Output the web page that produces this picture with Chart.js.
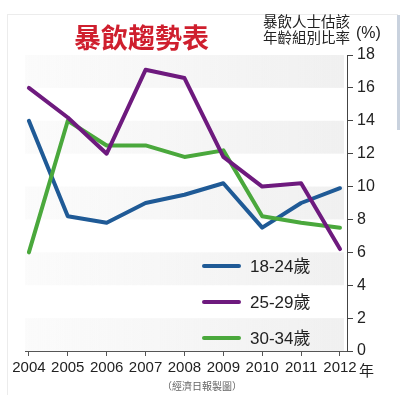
<!DOCTYPE html>
<html>
<head>
<meta charset="utf-8">
<script src="https://cdn.jsdelivr.net/npm/chart.js@4.4.0/dist/chart.umd.min.js"></script>
<style>
  html, body { margin: 0; padding: 0; background: #fff; }
  #wrap { position: relative; width: 400px; height: 398px; overflow: hidden; }
  #chart { position: absolute; left: 0; top: 0; }
  .txt { position: absolute; white-space: nowrap; font-family: "Liberation Sans", Arial, "Noto Sans CJK TC", sans-serif; color: #222; }
  #title { left: 74px; top: 17px; font-family: "Noto Sans CJK TC", sans-serif; font-weight: bold; font-size: 27px; color: #cf1f2e; }
  #ytitle { left: 263px; top: 13px; font-family: "Noto Sans CJK TC", sans-serif; font-size: 14.5px; line-height: 16px; color: #222; }
  #unit { left: 356px; top: 24px; font-size: 16px; }
  #year { left: 359px; top: 359px; font-family: "Noto Sans CJK TC", sans-serif; font-size: 15px; }
  #src { left: 162px; top: 378px; font-family: "Noto Sans CJK TC", sans-serif; font-size: 10px; color: #666; }
  #frame { position: absolute; left: 7px; top: 14px; width: 390px; height: 380px; border-top: 1px solid #ececec; border-left: 1px solid #ececec; }
  #edge { position: absolute; left: 397px; top: 15px; width: 3px; height: 115px; background: #c9d2de; }
</style>
</head>
<body>
<div id="wrap">
  <div id="frame"></div>
  <div id="edge"></div>
  <canvas id="chart" width="400" height="398"></canvas>
  <div class="txt" id="title">暴飲趨勢表</div>
  <div class="txt" id="ytitle">暴飲人士估該<br>年齡組別比率</div>
  <div class="txt" id="unit">(%)</div>
  <div class="txt" id="year">年</div>
  <div class="txt" id="src">（經濟日報製圖）</div>
</div>
<script>
// chart data
const years = [2004, 2005, 2006, 2007, 2008, 2009, 2010, 2011, 2012];
const age1824 = [14.0, 8.2, 7.8, 9.0, 9.5, 10.2, 7.5, 9.0, 9.9];
const age2529 = [16.0, 14.2, 12.0, 17.1, 16.6, 11.8, 10.0, 10.2, 6.2];
const age3034 = [6.0, 14.0, 12.5, 12.5, 11.8, 12.2, 8.2, 7.8, 7.5];
const yTicks = [0, 2, 4, 6, 8, 10, 12, 14, 16, 18];
const seriesNames = ['18-24歲', '25-29歲', '30-34歲'];
const seriesColors = ['#1f5a96', '#6e1a7e', '#4aa83c'];

function pts(vals) {
    return years.map((y, i) => ({ x: y, y: vals[i] }));
}

// light gray bands, fading in from the left
const bands = {
    id: 'bands',
    beforeDatasetsDraw(chart) {
        const { ctx, chartArea } = chart;
        const ys = chart.scales.y;
        const right = chartArea.right - 3;
        const grad = ctx.createLinearGradient(chartArea.left, 0, right, 0);
        grad.addColorStop(0, 'rgba(242,242,242,0.3)');
        grad.addColorStop(1, 'rgba(240,240,240,1)');
        ctx.save();
        ctx.fillStyle = grad;
        for (let v = 0; v < 18; v += 4) {
            const top = ys.getPixelForValue(v + 2);
            const bot = ys.getPixelForValue(v);
            ctx.fillRect(chartArea.left, top, right - chartArea.left, bot - top);
        }
        ctx.restore();
    }
};

// legend sits inside the plot
const inLegend = {
    id: 'inLegend',
    afterDatasetsDraw(chart) {
        const { ctx, chartArea } = chart;
        ctx.save();
        seriesNames.forEach((name, i) => {
            const y = chartArea.bottom - 85 + i * 36;
            ctx.strokeStyle = seriesColors[i];
            ctx.lineWidth = 4;
            ctx.lineCap = 'round';
            ctx.beginPath();
            ctx.moveTo(204, y);
            ctx.lineTo(239, y);
            ctx.stroke();
            ctx.fillStyle = '#222';
            ctx.font = '17px "Liberation Sans", "Noto Sans CJK TC", sans-serif';
            ctx.textBaseline = 'middle';
            ctx.fillText(name, 250, y + 1);
        });
        ctx.restore();
    }
};

new Chart(document.getElementById('chart'), {
    type: 'line',
    data: {
        datasets: [
            { label: seriesNames[0], data: pts(age1824), borderColor: seriesColors[0], order: 2 },
            { label: seriesNames[1], data: pts(age2529), borderColor: seriesColors[1], order: 0 },
            { label: seriesNames[2], data: pts(age3034), borderColor: seriesColors[2], order: 1 }
        ]
    },
    options: {
        responsive: false,
        animation: false,
        layout: { padding: { left: 25, top: 55, right: 0, bottom: 0 } },
        elements: {
            line: { borderWidth: 4, tension: 0, borderJoinStyle: 'round', borderCapStyle: 'round', fill: false },
            point: { radius: 0 }
        },
        plugins: { legend: { display: false }, tooltip: { enabled: false } },
        scales: {
            x: {
                type: 'linear',
                min: 2003.9,
                max: 2012.18,
                afterBuildTicks(scale) { scale.ticks = years.map(v => ({ value: v })); },
                afterFit(scale) { scale.height = 47; },
                grid: { drawOnChartArea: false, tickLength: 5, color: '#555' },
                border: { display: true, color: '#555', width: 1 },
                ticks: {
                    autoSkip: false,
                    maxRotation: 0,
                    padding: 3,
                    color: '#222',
                    font: { family: '"Liberation Sans Narrow", "Arial Narrow", "Liberation Sans", sans-serif', size: 15 },
                    callback: v => String(v)
                }
            },
            y: {
                position: 'right',
                min: 0,
                max: 18,
                afterBuildTicks(scale) { scale.ticks = yTicks.map(v => ({ value: v })); },
                afterFit(scale) { scale.width = 53; },
                grid: { drawOnChartArea: false, tickLength: 6, color: '#444' },
                border: { display: true, color: '#444', width: 1 },
                ticks: {
                    padding: 4,
                    color: '#222',
                    font: { family: '"Liberation Sans", Arial, sans-serif', size: 16 }
                }
            }
        }
    },
    plugins: [bands, inLegend]
});
</script>
</body>
</html>
